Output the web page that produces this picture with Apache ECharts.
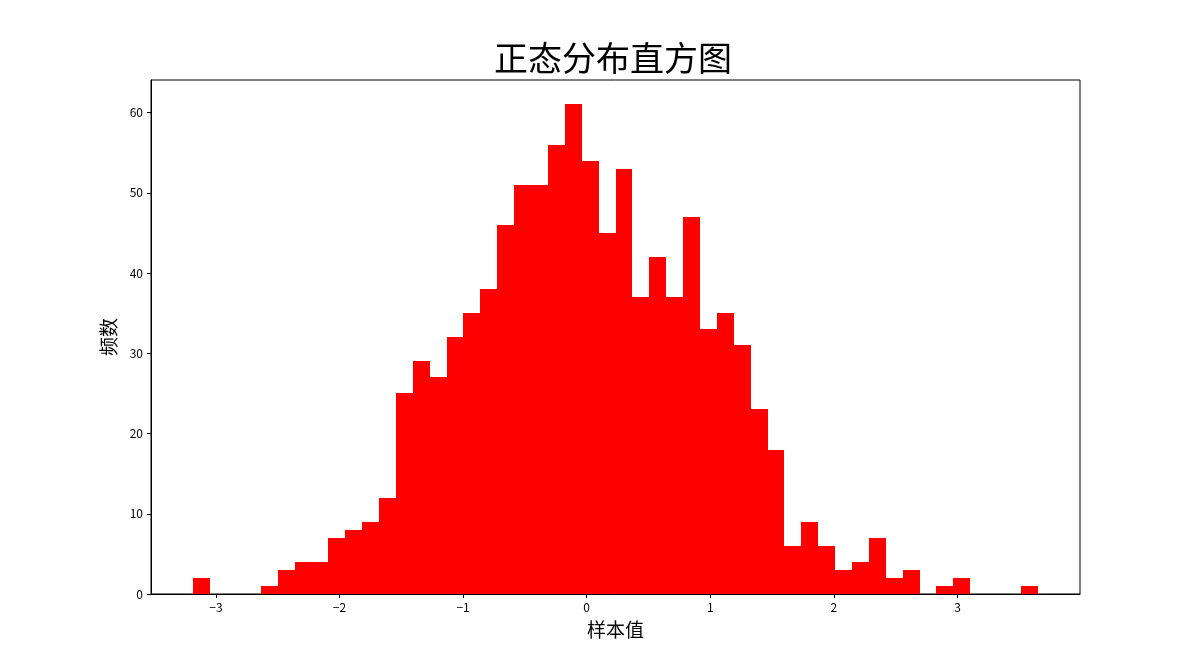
<!DOCTYPE html>
<html>
<head>
<meta charset="utf-8">
<title>正态分布直方图</title>
<script src="https://cdn.jsdelivr.net/npm/echarts@6/dist/echarts.min.js"></script>
<style>
    html, body {margin: 0; padding: 0; background: #fff;}
    #main {width: 1200px; height: 667px;}
</style>
</head>
<body>
<div id="main"></div>
<script>
// 直方图: 50个区间, 1000个样本
var binStart = -3.183;
var binWidth = 0.13664;
var counts = [
    2, 0, 0, 0, 1, 3, 4, 4, 7, 8,
    9, 12, 25, 29, 27, 32, 35, 38, 46, 51,
    51, 56, 61, 54, 45, 53, 37, 42, 37, 47,
    33, 35, 31, 23, 18, 6, 9, 6, 3, 4,
    7, 2, 3, 0, 1, 2, 0, 0, 0, 1
];
var xTicks = [-3, -2, -1, 0, 1, 2, 3];
var yTicks = [0, 10, 20, 30, 40, 50, 60];

var bins = [];
for (let i = 0; i < counts.length; i++) {
    let lo = binStart + i * binWidth;
    bins.push([lo, lo + binWidth, counts[i]]);
}

var font = '"Noto Sans CJK SC", "Noto Sans", sans-serif';
var myChart = echarts.init(document.getElementById("main"));
var option = {
    backgroundColor: '#fff',
    animation: false,
    title: {
        text: '正态分布直方图',
        left: 608,
        top: 36,
        textAlign: 'center',
        textStyle: {
            fontFamily: font,
            fontSize: 34,
            fontWeight: 'normal',
            color: '#000'
        }
    },
    grid: {
        left: 151,
        right: 120,
        top: 80,
        bottom: 73,
        show: true,
        borderColor: '#000',
        borderWidth: 1,
        backgroundColor: 'transparent'
    },
    xAxis: {
        type: 'value',
        min: -3.525,
        max: 3.991,
        name: '样本值',
        nameLocation: 'middle',
        nameGap: 26,
        nameTextStyle: {fontFamily: font, fontSize: 19, color: '#000'},
        splitLine: {show: false},
        axisLine: {onZero: false, lineStyle: {color: '#000', width: 1}},
        axisTick: {
            length: 4,
            lineStyle: {color: '#000'},
            customValues: xTicks
        },
        axisLabel: {
            margin: 7,
            fontFamily: font,
            fontSize: 12,
            color: '#000',
            customValues: xTicks,
            formatter: function (v) {
                return String(v).replace('-', '\u2212');
            }
        }
    },
    yAxis: {
        type: 'value',
        min: 0,
        max: 64.05,
        name: '频数',
        nameLocation: 'middle',
        nameRotate: 90,
        nameGap: 31,
        nameTextStyle: {fontFamily: font, fontSize: 19, color: '#000'},
        splitLine: {show: false},
        axisLine: {show: true, onZero: false, lineStyle: {color: '#000', width: 1}},
        axisTick: {
            show: true,
            length: 4,
            lineStyle: {color: '#000'},
            customValues: yTicks
        },
        axisLabel: {
            margin: 8,
            fontFamily: font,
            fontSize: 12,
            color: '#000',
            customValues: yTicks
        }
    },
    series: [
        {
            name: '频数',
            type: 'custom',
            renderItem: function (params, api) {
                let p0 = api.coord([api.value(0), api.value(2)]);
                let p1 = api.coord([api.value(1), 0]);
                // 对齐到整像素, 避免相邻柱之间出现白缝
                let x0 = Math.round(p0[0]), x1 = Math.round(p1[0]);
                let y0 = Math.round(p0[1]), y1 = Math.round(p1[1]);
                return {
                    type: 'rect',
                    shape: {x: x0, y: y0, width: x1 - x0, height: y1 - y0},
                    style: {fill: '#ff0000'}
                };
            },
            encode: {x: [0, 1], y: 2},
            data: bins
        }
    ]
};
myChart.setOption(option);
</script>
</body>
</html>
